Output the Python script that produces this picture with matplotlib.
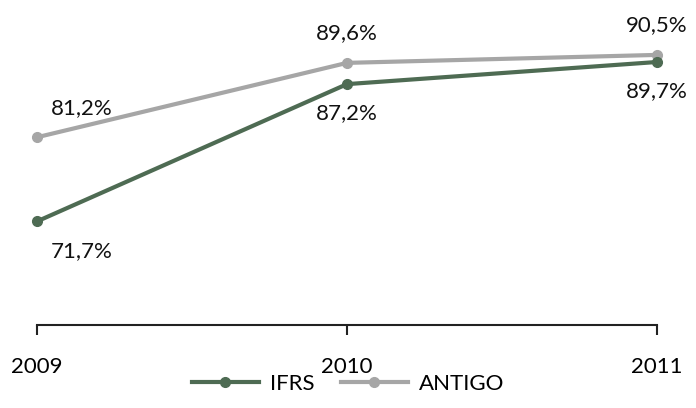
import matplotlib.pyplot as plt

years = ["2009", "2010", "2011"]
ifrs = [71.7, 87.2, 89.7]
antigo = [81.2, 89.6, 90.5]
ifrs_labels = ["71,7%", "87,2%", "89,7%"]
antigo_labels = ["81,2%", "89,6%", "90,5%"]

plt.rcParams['font.family'] = ['Lato', 'DejaVu Sans']

fig = plt.figure(figsize=(6.96, 4.08), dpi=100)
ax = fig.add_axes([37 / 696, 83 / 408, 620 / 696, 325 / 408])

x = list(range(len(years)))
green = "#4e6b53"
gray = "#a6a6a6"

ax.plot(x, ifrs, color=green, lw=3, marker="o", ms=7, label="IFRS", clip_on=False, zorder=3)
ax.plot(x, antigo, color=gray, lw=3, marker="o", ms=7, label="ANTIGO", clip_on=False, zorder=2)

# rótulos: IFRS abaixo, ANTIGO acima; o primeiro deslocado para a direita
dx = [32, 0, 0]
for i in x:
    ax.annotate(antigo_labels[i], (i, antigo[i]), xytext=(dx[i], 14), textcoords="offset points",
                ha="center", va="bottom", fontsize=16, color="#111111")
    ax.annotate(ifrs_labels[i], (i, ifrs[i]), xytext=(dx[i], -14), textcoords="offset points",
                ha="center", va="top", fontsize=16, color="#111111")

ax.set_xlim(0, 2)
ax.set_ylim(60, 96.7)
ax.set_xticks(x)
ax.set_xticklabels(years, fontsize=16)
ax.set_yticks([])
for s in ["top", "right", "left"]:
    ax.spines[s].set_visible(False)
ax.spines["bottom"].set_linewidth(1.5)
ax.spines["bottom"].set_color("#222222")
ax.tick_params(axis="x", direction="out", length=7, width=1.5, color="#222222", pad=16)

fig.legend(loc="lower center", bbox_to_anchor=(0.5, -0.015), ncol=2, frameon=False,
           fontsize=16, handlelength=3.0, columnspacing=1.2, handletextpad=0.5)

fig.savefig("out.png", dpi=100)
